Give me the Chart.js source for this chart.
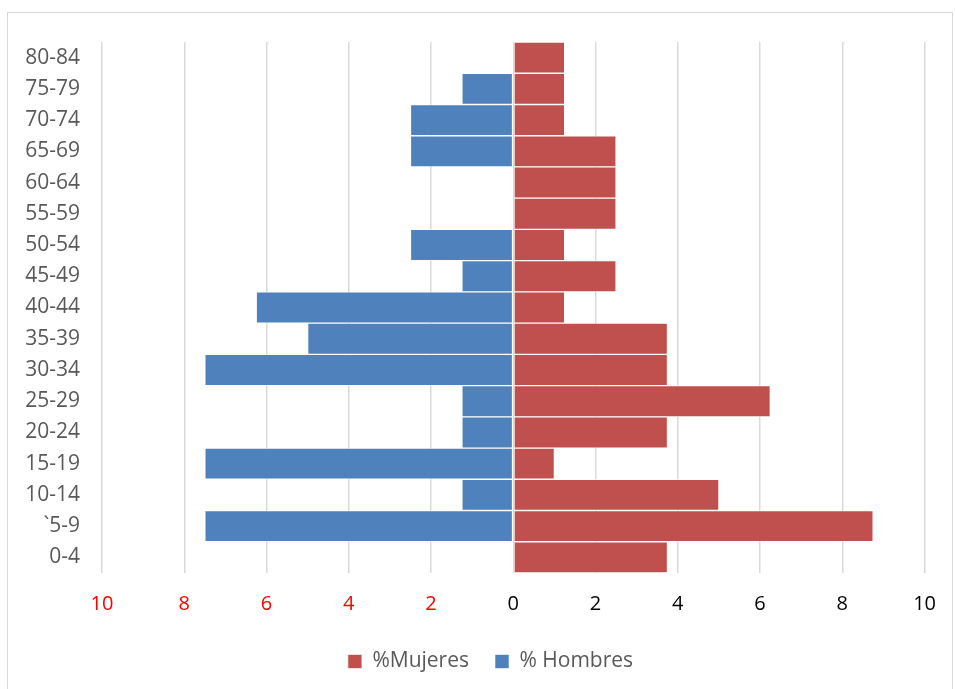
<!DOCTYPE html>
<html>
<head>
<meta charset="utf-8">
<script src="https://cdn.jsdelivr.net/npm/chart.js@4/dist/chart.umd.min.js"></script>
<style>
  html, body { margin:0; padding:0; background:#fff; }
  #frame { position:absolute; left:7px; top:12px; width:946px; height:690px; border:1px solid #D9D9D9; box-sizing:border-box; }
  #wrap { position:absolute; left:0; top:0; width:955px; height:689px; }
</style>
</head>
<body>
<div id="frame"></div>
<div id="wrap"><canvas id="chart" width="955" height="689"></canvas></div>
<script>
// age groups, top to bottom as in the picture
const ageGroups = ['80-84','75-79','70-74','65-69','60-64','55-59','50-54','45-49','40-44','35-39','30-34','25-29','20-24','15-19','10-14','`5-9','0-4']
const mujeres = [1.25,1.25,1.25,2.5,2.5,2.5,1.25,2.5,1.25,3.75,3.75,6.25,3.75,1,5,8.75,3.75]
const hombres = [0,-1.25,-2.5,-2.5,0,0,-2.5,-1.25,-6.25,-5,-7.5,-1.25,-1.25,-7.5,-1.25,-7.5,0]
const xTicks = [-10,-8,-6,-4,-2,0,2,4,6,8,10]

const font = "'Open Sans', 'Liberation Sans', sans-serif"

// nudge the legend a bit right, like the original
const legendShift = {
  id: 'legendShift',
  afterLayout(chart) {
    const lg = chart.legend
    if (lg) { lg.left += 28; lg.right += 28 }
  }
}

document.addEventListener('DOMContentLoaded', function(){
  const ctx = document.getElementById('chart').getContext('2d')
  new Chart(ctx, {
    type: 'bar',
    data: {
      labels: ageGroups,
      datasets: [
        { label: '%Mujeres', data: mujeres, backgroundColor: '#C0504D', borderColor: 'rgba(255,255,255,0.6)', borderWidth: 1, borderSkipped: false },
        { label: '% Hombres', data: hombres, backgroundColor: '#4F81BD', borderColor: 'rgba(255,255,255,0.6)', borderWidth: 1, borderSkipped: false }
      ]
    },
    plugins: [legendShift],
    options: {
      indexAxis: 'y',
      responsive: false,
      animation: false,
      layout: { padding: { top: 42, right: 30, left: 0, bottom: 7 } },
      scales: {
        x: {
          stacked: true,
          min: -10, max: 10,
          afterBuildTicks: (scale) => { scale.ticks = xTicks.map(v => ({ value: v })) },
          afterFit: (scale) => { scale.height = 52 },
          grid: { color: '#D9D9D9', lineWidth: 1.5, drawTicks: false },
          border: { display: false },
          ticks: {
            padding: 19,
            font: { family: font, size: 20 },
            color: (c) => c.tick && c.tick.value < 0 ? '#FF0000' : '#000000',
            callback: (v) => Math.abs(v)
          }
        },
        y: {
          stacked: true,
          afterFit: (scale) => { scale.width = 102 },
          grid: { display: false, drawTicks: false },
          border: { display: false },
          ticks: { padding: 22, font: { family: font, size: 21 }, color: '#595959', autoSkip: false }
        }
      },
      datasets: { bar: { barPercentage: 1, categoryPercentage: 1 } },
      plugins: {
        legend: {
          position: 'bottom',
          labels: { boxWidth: 14, boxHeight: 14, padding: 26, font: { family: font, size: 21 }, color: '#595959' }
        },
        tooltip: { enabled: false }
      }
    }
  })
})
</script>
</body>
</html>
